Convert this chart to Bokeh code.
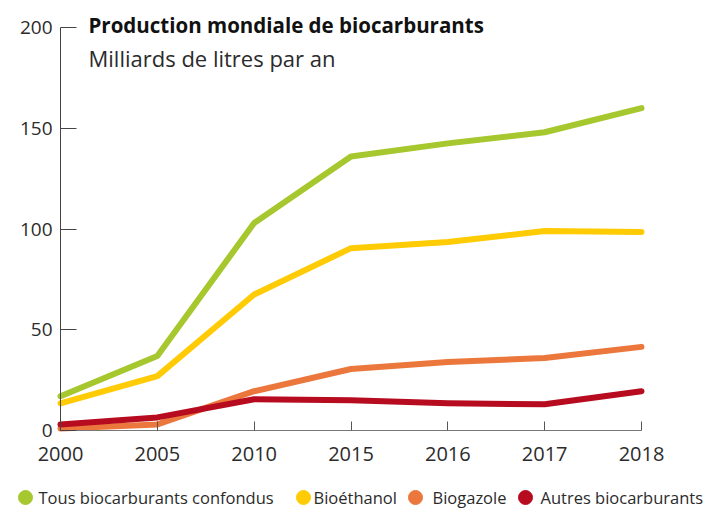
from bokeh.plotting import figure
from bokeh.models import Label, Range1d, FixedTicker
from bokeh.core.properties import value
from bokeh.embed import file_html
from bokeh.resources import INLINE

years = ["2000", "2005", "2010", "2015", "2016", "2017", "2018"]
tous = [17, 37, 103, 136, 142.5, 148, 160]
bioethanol = [13.5, 27, 67.5, 90.5, 93.5, 99, 98.5]
biogazole = [1, 3, 19.5, 30.5, 34, 36, 41.5]
autres = [3, 6.5, 15.5, 15, 13.5, 13, 19.5]

series_names = ["Tous biocarburants confondus", "Bioéthanol", "Biogazole", "Autres biocarburants"]
series_values = [tous, bioethanol, biogazole, autres]
colors = ["#a6c72d", "#ffcb05", "#ec773c", "#b70c1f"]

y_ticks = [0, 50, 100, 150, 200]
title_text = "Production mondiale de biocarburants"
subtitle_text = "Milliards de litres par an"

FONT = "Open Sans"
TXT = "#2b2b2b"

xs = list(range(len(years)))

# canvas / axis placement (pixels)
W, H = 712, 509
AX_L, AX_R, AX_T, AX_B = 60, 641, 27, 430
xpp = (AX_R - AX_L) / (len(years) - 1)
ypp = (AX_B - AX_T) / 200.0


def px_x(px):
    return (px - AX_L) / xpp


def px_y(py):
    return (AX_B - py) / ypp


x_range = Range1d(px_x(0), px_x(W))
y_range = Range1d(px_y(H), px_y(0))

p = figure(width=W, height=H, output_backend="svg", toolbar_location=None,
           x_range=x_range, y_range=y_range,
           min_border_left=0, min_border_right=0, min_border_top=0, min_border_bottom=0)
p.outline_line_color = None
p.grid.visible = False
p.background_fill_color = "white"
p.border_fill_color = "white"

# axes
p.xaxis.fixed_location = 0
p.yaxis.fixed_location = 0
p.xaxis.bounds = (0, len(years) - 1)
p.yaxis.bounds = (0, 200)
p.xaxis.ticker = FixedTicker(ticks=xs)
p.xaxis.major_label_overrides = {i: y for i, y in enumerate(years)}
p.yaxis.ticker = FixedTicker(ticks=y_ticks)
for ax in (p.xaxis, p.yaxis):
    ax.minor_tick_line_color = None
    ax.major_tick_out = 0
    ax.major_label_text_font = FONT
    ax.major_label_text_color = TXT
p.xaxis.major_label_text_font_size = "20px"
p.yaxis.major_label_text_font_size = "19px"
p.xaxis.major_tick_in = 9
p.xaxis.axis_line_color = "#777777"
p.xaxis.major_tick_line_color = "#555555"
p.xaxis.major_label_standoff = 16
p.yaxis.major_tick_in = 16
p.yaxis.axis_line_color = "#444444"
p.yaxis.major_tick_line_color = "#444444"
p.yaxis.major_label_standoff = 8

for vals, c in zip(series_values, colors):
    p.line(xs, vals, line_color=c, line_width=6, line_cap="round", line_join="round")

# legend row (layout positions in pixels)
LEG_Y = 497
leg_marker_px = [25, 303, 415, 525]
leg_text_px = [38, 313, 432, 540]
p.scatter([px_x(v) for v in leg_marker_px], [px_y(LEG_Y)] * 4, size=14,
          fill_color=colors, line_color=colors)
p.text([px_x(v) for v in leg_text_px], [px_y(LEG_Y)] * 4, text=series_names,
       text_font=value(FONT), text_font_size="16.5px", text_color=TXT,
       text_baseline="middle", text_align="left")

p.add_layout(Label(x=px_x(88), y=px_y(24), text=title_text, text_font=FONT,
                   text_font_style="bold", text_font_size="20.5px", text_color="#111111",
                   text_baseline="middle"))
p.add_layout(Label(x=px_x(88), y=px_y(57), text=subtitle_text, text_font=FONT,
                   text_font_size="22px", text_color=TXT, text_baseline="middle"))

open("out.html", "w").write(file_html(p, INLINE))
